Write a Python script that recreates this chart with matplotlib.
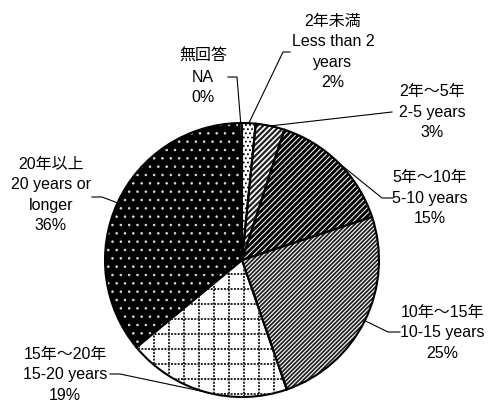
import numpy as np
import matplotlib
matplotlib.use('Agg')
import matplotlib.pyplot as plt

plt.rcParams['font.family'] = ['Liberation Sans', 'Noto Sans CJK JP']

# slices, clockwise from 12 o'clock
labels_jp = ['2年未満', '2年～5年', '5年～10年', '10年～15年', '15年～20年', '20年以上', '無回答']
labels_en = ['Less than 2\nyears', '2-5 years', '5-10 years', '10-15 years', '15-20 years',
             '20 years or\nlonger', 'NA']
shares = [1.6, 3.4, 14.9, 24.8, 19.3, 35.7, 0.3]

faces = ['white', 'white', 'white', 'white', 'white', 'black', 'white']
hatch_cols = ['black', '#222222', 'black', '#222222', 'none', '#dddddd', 'black']
hatches = ['....', '//////', '//////', '////////', '', '..', '']
hatch_lw = [0.8, 1.6, 2.1, 1.3, 1.0, 0.6, 1.0]

# label layout (pixels from top-left)
label_pos = [(333, 52), (432, 112), (430, 198), (442, 333), (65, 375), (51, 195), (203, 77)]
leader_pts = [[(290, 52), (283, 52)],
              [(392, 112)],
              [(393, 198), (382, 198)],
              [(400, 332), (388, 332)],
              [(110, 374), (120, 374)],
              [(92, 197), (102, 197)],
              [(228, 77), (237, 77)]]

W, H = 492, 403
cx, cy, R = 242, H - 260, 137

fig = plt.figure(figsize=(W / 100, H / 100), dpi=100)
ax = fig.add_axes([0, 0, 1, 1])

kw = dict(startangle=90, counterclock=False, center=(cx, cy), radius=R)
# fill
fill, _ = ax.pie(shares, colors=faces, wedgeprops=dict(linewidth=0), **kw)
# hatch layer
hw, _ = ax.pie(shares, colors=['none'] * len(shares), wedgeprops=dict(linewidth=0), **kw)
for w, h, hc, lw in zip(hw, hatches, hatch_cols, hatch_lw):
    w.set_facecolor('none')
    w.set_edgecolor(hc)
    w.set_linewidth(0)
    w.set_hatch(h)
    if hasattr(w, 'set_hatch_linewidth'):
        w.set_hatch_linewidth(lw)

# dotted grid pattern for 15-20 years
grid_w = fill[4]
step = 15
for g in np.arange(cx - R + 4, cx + R, step):
    ln, = ax.plot([g, g], [cy - R, cy + R], color='#222222', linewidth=1.4,
                  linestyle=(0, (1.0, 0.7)))
    ln.set_clip_path(grid_w)
for g in np.arange(cy - R + 3, cy + R, step):
    ln, = ax.plot([cx - R, cx + R], [g, g], color='#222222', linewidth=1.4,
                  linestyle=(0, (1.0, 0.7)))
    ln.set_clip_path(grid_w)

# outline
ow, _ = ax.pie(shares, colors=['none'] * len(shares),
               wedgeprops=dict(linewidth=1.5, edgecolor='black', facecolor='none'), **kw)

for w, jp, en, v, (tx, ty), pts in zip(ow, labels_jp, labels_en, shares, label_pos, leader_pts):
    txt = '{}\n{}\n{:.0f}%'.format(jp, en, v)
    ax.text(tx, H - ty, txt, ha='center', va='center', fontsize=11.5, linespacing=1.45)
    mid = np.deg2rad((w.theta1 + w.theta2) / 2)
    ax_pt = (cx + R * np.cos(mid), cy + R * np.sin(mid))
    xs = [p[0] for p in pts] + [ax_pt[0]]
    ys = [H - p[1] for p in pts] + [ax_pt[1]]
    ax.plot(xs, ys, color='black', linewidth=0.8)

ax.set_xlim(0, W)
ax.set_ylim(0, H)
ax.set_aspect('equal')
ax.axis('off')

fig.savefig('out.png', dpi=100)
